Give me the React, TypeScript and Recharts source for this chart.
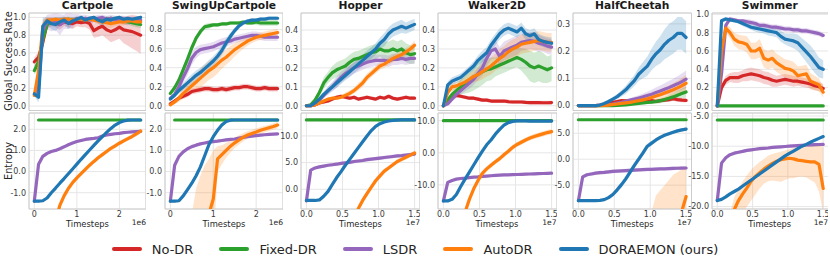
import React from "react";
import {
  Area,
  CartesianGrid,
  ComposedChart,
  Line,
  ReferenceArea,
  XAxis,
  YAxis,
} from "recharts";

const FONT = "'DejaVu Sans', 'Liberation Sans', sans-serif";

const RED = "#d62728";
const GREEN = "#2ca02c";
const PURPLE = "#9467bd";
const ORANGE = "#ff7f0e";
const BLUE = "#1f77b4";

// x grids (Cartpole tasks in 1e6 steps, MuJoCo tasks in 1e7 steps)
const xCart = [0, 0.1, 0.2, 0.3, 0.4, 0.5, 0.6, 0.7, 0.8, 0.9, 1.0, 1.1, 1.2, 1.3, 1.4, 1.5, 1.6, 1.7, 1.8, 1.9, 2.0, 2.1, 2.2, 2.3, 2.4, 2.5];
const xMj = [0, 0.06, 0.12, 0.18, 0.24, 0.3, 0.36, 0.42, 0.48, 0.54, 0.6, 0.66, 0.72, 0.78, 0.84, 0.9, 0.96, 1.02, 1.08, 1.14, 1.2, 1.26, 1.32, 1.38, 1.44, 1.5];
const xTicksCart = [0, 1, 2];
const xTicksMj = [0, 0.5, 1, 1.5];

const methodNames = ["No-DR", "Fixed-DR", "LSDR", "AutoDR", "DORAEMON (ours)"];
const methodColors = [RED, GREEN, PURPLE, ORANGE, BLUE];
const taskNames = ["Cartpole", "SwingUpCartpole", "Hopper", "Walker2D", "HalfCheetah", "Swimmer"];

// ---------- global success rate ----------
const cpSrNoDr = [.50, .55, .72, .93, .95, .94, .92, .95, .94, .93, .95, .94, .95, .93, .85, .88, .90, .86, .84, .86, .89, .86, .85, .84, .82, .80];
const cpSrNoDrSd = [.05, .06, .10, .06, .05, .05, .06, .05, .05, .06, .05, .05, .06, .07, .08, .10, .10, .10, .12, .12, .13, .15, .17, .19, .20, .21];
const cpSrFixed = [.40, .50, .75, .92, .96, .97, .96, .97, .98, .97, .98, .98, .97, .98, .99, .98, .97, .98, .99, .98, .97, .96, .95, .94, .93, .92];
const cpSrFixedSd = [.05, .08, .10, .05, .03, .03, .04, .03, .03, .03, .02, .02, .03, .03, .02, .02, .03, .03, .02, .03, .03, .03, .03, .04, .04, .04];
const cpSrLsdr = [.13, .20, .85, .95, .94, .96, .92, .95, .97, .96, .99, .98, .99, .97, .98, .99, 1.0, .98, .99, .97, .98, .97, .96, .97, .96, .97];
const cpSrLsdrSd = [.03, .10, .10, .08, .10, .10, .12, .08, .10, .08, .05, .05, .04, .05, .04, .04, .03, .04, .04, .05, .04, .05, .05, .04, .05, .04];
const cpSrAuto = [.12, .40, .90, .97, .97, .98, .97, .98, .98, .97, .98, .98, .97, .98, .97, .96, .95, .94, .93, .94, .95, .95, .96, .96, .95, .95];
const cpSrAutoSd = [.03, .10, .08, .03, .03, .02, .03, .02, .02, .03, .02, .02, .03, .02, .03, .03, .04, .05, .05, .04, .04, .04, .03, .03, .03, .03];
const cpSrDora = [.14, .10, .90, .96, .93, .92, .95, .97, .93, .96, .98, 1.0, .97, .99, 1.0, .97, .95, .98, .97, .99, 1.0, .98, .99, .98, .99, 1.0];
const cpSrDoraSd = [.03, .06, .10, .04, .06, .08, .05, .04, .06, .04, .03, .02, .03, .02, .02, .04, .05, .03, .03, .02, .02, .02, .02, .02, .02, .02];

const suSrNoDr = [.02, .05, .08, .10, .12, .15, .16, .17, .18, .18, .17, .17, .18, .17, .18, .19, .19, .20, .20, .19, .18, .18, .19, .18, .18, .18];
const suSrNoDrSd = [.01, .02, .02, .03, .03, .03, .03, .03, .03, .03, .03, .03, .03, .03, .03, .03, .03, .03, .03, .03, .03, .03, .03, .03, .03, .03];
const suSrFixed = [.13, .19, .27, .38, .49, .61, .71, .78, .83, .84, .85, .85, .86, .86, .87, .87, .87, .88, .87, .87, .88, .87, .87, .87, .87, .87];
const suSrFixedSd = [.02, .03, .04, .04, .04, .04, .03, .03, .03, .03, .02, .02, .02, .02, .02, .02, .02, .02, .02, .02, .03, .03, .03, .03, .03, .03];
const suSrLsdr = [.08, .12, .20, .30, .39, .50, .56, .59, .60, .61, .62, .64, .66, .67, .68, .70, .71, .72, .73, .74, .74, .73, .72, .72, .72, .72];
const suSrLsdrSd = [.02, .03, .05, .06, .07, .07, .06, .05, .05, .05, .05, .05, .05, .05, .04, .04, .04, .04, .04, .04, .04, .04, .04, .04, .04, .04];
const suSrAuto = [.01, .04, .08, .13, .17, .21, .25, .29, .33, .37, .40, .44, .48, .51, .55, .59, .62, .65, .68, .70, .72, .73, .74, .75, .76, .77];
const suSrAutoSd = [.01, .02, .04, .05, .07, .08, .09, .10, .10, .10, .10, .10, .09, .08, .08, .07, .06, .05, .05, .04, .04, .04, .04, .04, .04, .04];
const suSrDora = [.07, .11, .16, .20, .24, .28, .32, .35, .39, .43, .47, .52, .58, .66, .73, .79, .84, .87, .89, .90, .90, .91, .91, .92, .92, .92];
const suSrDoraSd = [.02, .02, .03, .04, .05, .05, .05, .05, .05, .05, .05, .05, .05, .05, .04, .03, .03, .02, .02, .02, .02, .02, .02, .02, .02, .02];

const hopSrNoDr = [0, 0, .005, .015, .02, .025, .035, .045, .05, .045, .04, .045, .035, .04, .045, .04, .035, .045, .04, .05, .04, .035, .04, .045, .04, .04];
const hopSrNoDrSd = [0, 0, .003, .005, .008, .01, .01, .01, .01, .01, .01, .01, .01, .01, .01, .01, .01, .01, .01, .01, .01, .01, .01, .01, .01, .01];
const hopSrFixed = [0, .005, .03, .07, .12, .15, .175, .19, .2, .21, .23, .245, .25, .26, .27, .28, .285, .3, .29, .29, .3, .29, .3, .28, .27, .275];
const hopSrFixedSd = [0, .005, .01, .02, .03, .03, .035, .04, .04, .04, .04, .04, .04, .04, .04, .04, .04, .04, .05, .05, .05, .05, .05, .05, .05, .05];
const hopSrLsdr = [0, 0, .01, .03, .055, .08, .1, .125, .15, .17, .185, .2, .21, .22, .23, .235, .24, .24, .24, .235, .245, .245, .25, .245, .25, .25];
const hopSrLsdrSd = [0, 0, .005, .01, .015, .02, .025, .03, .03, .03, .03, .03, .03, .03, .03, .03, .03, .03, .03, .03, .03, .03, .03, .03, .03, .03];
const hopSrAuto = [0, 0, .005, .015, .025, .035, .04, .04, .045, .055, .065, .08, .1, .12, .15, .17, .19, .21, .22, .235, .25, .26, .27, .285, .3, .32];
const hopSrAutoSd = [0, 0, .005, .008, .01, .01, .01, .01, .01, .015, .015, .015, .02, .02, .02, .02, .02, .02, .02, .02, .02, .02, .02, .02, .02, .025];
const hopSrDora = [0, 0, .015, .035, .06, .08, .1, .12, .14, .16, .18, .2, .22, .24, .26, .28, .3, .33, .35, .38, .4, .41, .42, .41, .42, .43];
const hopSrDoraSd = [0, 0, .005, .01, .015, .02, .02, .025, .025, .025, .03, .03, .03, .03, .03, .03, .03, .03, .035, .035, .035, .035, .035, .03, .03, .03];

const wlkSrNoDr = [0, .025, .045, .055, .05, .045, .04, .04, .035, .03, .03, .025, .025, .025, .025, .022, .02, .02, .02, .018, .017, .017, .017, .016, .016, .017];
const wlkSrNoDrSd = [0, .01, .01, .01, .01, .01, .01, .01, .01, .01, .01, .01, .01, .01, .01, .01, .01, .01, .01, .01, .01, .01, .01, .01, .01, .01];
const wlkSrFixed = [0, .03, .06, .08, .1, .115, .13, .15, .165, .18, .19, .195, .205, .215, .225, .235, .245, .255, .245, .23, .21, .2, .21, .2, .19, .2];
const wlkSrFixedSd = [0, .01, .02, .03, .04, .05, .06, .07, .07, .07, .06, .06, .05, .05, .05, .05, .05, .05, .06, .07, .08, .08, .08, .08, .07, .07];
const wlkSrLsdr = [0, .01, .035, .06, .08, .1, .12, .14, .17, .2, .25, .29, .3, .26, .29, .3, .31, .32, .335, .34, .345, .34, .33, .325, .315, .31];
const wlkSrLsdrSd = [0, .005, .01, .02, .02, .025, .03, .03, .035, .04, .04, .045, .05, .05, .05, .05, .05, .05, .045, .045, .045, .045, .045, .04, .04, .04];
const wlkSrAuto = [0, .07, .1, .105, .115, .125, .14, .155, .165, .18, .195, .21, .23, .25, .265, .285, .3, .31, .325, .33, .335, .34, .345, .34, .335, .335];
const wlkSrAutoSd = [0, .01, .02, .02, .02, .025, .03, .03, .035, .04, .04, .045, .045, .05, .05, .05, .05, .05, .05, .05, .05, .05, .05, .05, .05, .05];
const wlkSrDora = [0, .11, .13, .14, .15, .17, .19, .21, .24, .26, .28, .32, .35, .38, .4, .41, .4, .39, .41, .38, .37, .38, .35, .34, .335, .33];
const wlkSrDoraSd = [0, .02, .02, .02, .02, .02, .02, .025, .025, .03, .03, .03, .03, .03, .03, .03, .03, .03, .03, .03, .03, .03, .03, .03, .03, .03];

const hcSrNoDr = [0, 0, 0, 0, 0, .002, .005, .008, .012, .015, .018, .017, .018, .016, .015, .017, .016, .018, .015, .018, .02, .022, .025, .022, .02, .019];
const hcSrNoDrSd = [0, 0, 0, 0, 0, .002, .003, .004, .005, .006, .006, .006, .006, .006, .006, .006, .006, .007, .007, .007, .007, .008, .008, .008, .008, .008];
const hcSrFixed = [0, 0, 0, 0, 0, 0, 0, 0, 0, .001, .002, .003, .004, .006, .008, .01, .012, .013, .015, .018, .022, .027, .032, .038, .044, .05];
const hcSrFixedSd = [0, 0, 0, 0, 0, 0, 0, 0, 0, .001, .001, .002, .002, .003, .004, .005, .006, .007, .008, .009, .01, .012, .014, .016, .018, .02];
const hcSrLsdr = [0, 0, 0, 0, 0, .001, .002, .004, .006, .009, .012, .016, .02, .024, .028, .032, .037, .042, .048, .054, .06, .066, .073, .08, .088, .097];
const hcSrLsdrSd = [0, 0, 0, 0, 0, .001, .002, .003, .004, .005, .006, .007, .008, .009, .01, .012, .014, .016, .018, .02, .022, .024, .026, .028, .03, .032];
const hcSrAuto = [0, 0, 0, 0, 0, 0, .001, .002, .004, .006, .008, .01, .012, .015, .018, .021, .025, .03, .035, .04, .046, .052, .058, .065, .073, .082];
const hcSrAutoSd = [0, 0, 0, 0, 0, 0, .001, .002, .003, .004, .005, .006, .007, .008, .009, .01, .012, .014, .016, .018, .02, .022, .024, .026, .028, .03];
const hcSrDora = [0, 0, 0, 0, 0, .002, .008, .015, .024, .033, .045, .058, .075, .092, .115, .13, .145, .17, .19, .205, .225, .24, .25, .265, .265, .25];
const hcSrDoraSd = [0, 0, 0, 0, 0, .001, .004, .006, .008, .01, .012, .015, .018, .02, .025, .03, .035, .04, .045, .05, .055, .06, .06, .06, .06, .06];

const swSrNoDr = [0, .2, .28, .31, .31, .31, .33, .34, .35, .34, .33, .31, .3, .28, .27, .28, .29, .28, .27, .27, .26, .25, .24, .22, .21, .19];
const swSrNoDrSd = [0, .04, .05, .05, .06, .06, .06, .07, .07, .07, .07, .07, .07, .07, .06, .06, .06, .06, .06, .05, .05, .05, .05, .05, .05, .05];
const swSrFixed = [0, 0, 0, 0, 0, 0, 0, 0, 0, 0, 0, 0, 0, 0, 0, 0, 0, 0, 0, 0, 0, 0, 0, 0, 0, 0];
const swSrLsdr = [0, .35, .88, .95, .94, .93, .93, .92, .91, .9, .88, .88, .87, .86, .86, .85, .84, .84, .83, .83, .82, .82, .81, .8, .79, .77];
const swSrLsdrSd = [0, .05, .04, .02, .02, .02, .02, .03, .03, .03, .03, .03, .03, .03, .03, .03, .03, .03, .03, .03, .03, .03, .03, .03, .03, .03];
const swSrAuto = [0, .6, .85, .8, .73, .7, .69, .67, .6, .6, .63, .52, .5, .52, .47, .44, .41, .4, .38, .33, .34, .35, .27, .25, .23, .15];
const swSrAutoSd = [0, .08, .05, .06, .07, .08, .08, .09, .09, .09, .1, .1, .1, .1, .1, .1, .1, .1, .1, .1, .1, .1, .09, .08, .07, .06];
const swSrDora = [0, .93, .95, .94, .93, .92, .9, .88, .86, .85, .84, .83, .82, .81, .8, .76, .73, .72, .71, .69, .64, .59, .54, .48, .42, .4];
const swSrDoraSd = [0, .02, .02, .02, .02, .02, .03, .03, .03, .04, .04, .04, .05, .05, .05, .06, .06, .07, .08, .09, .1, .11, .12, .12, .11, .1];

// ---------- entropy ----------
const cpEntFixed = [null, 2.44, 2.44, 2.44, 2.44, 2.44, 2.44, 2.44, 2.44, 2.44, 2.44, 2.44, 2.44, 2.44, 2.44, 2.44, 2.44, 2.44, 2.44, 2.44, 2.44, 2.44, 2.44, 2.44, 2.44, 2.44];
const cpEntLsdr = [-1.4, .35, .72, .86, .95, 1.0, 1.08, 1.17, 1.27, 1.35, 1.42, 1.47, 1.52, 1.55, 1.57, 1.6, 1.68, 1.73, 1.76, 1.79, 1.81, 1.84, 1.86, 1.88, 1.89, 1.9];
const cpEntLsdrSd = [.05, .06, .06, .06, .06, .06, .06, .06, .06, .06, .06, .06, .06, .06, .06, .06, .06, .06, .06, .06, .06, .06, .06, .06, .06, .06];
const cpEntAuto = [null, null, null, null, -3.2, -2.3, -1.6, -1.15, -.8, -.52, -.3, -.1, .1, .3, .48, .65, .8, .95, 1.1, 1.22, 1.34, 1.45, 1.56, 1.66, 1.78, 1.92];
const cpEntAutoSd = [null, null, null, null, .1, .1, .1, .1, .1, .1, .1, .1, .1, .1, .1, .1, .1, .1, .1, .1, .1, .1, .1, .1, .1, .1];
const cpEntDora = [-1.4, -1.4, -1.38, -1.25, -1.0, -.78, -.55, -.33, -.1, .12, .35, .58, .8, 1.02, 1.24, 1.45, 1.65, 1.85, 2.04, 2.2, 2.32, 2.39, 2.43, 2.44, 2.44, 2.44];
const cpEntDoraSd = [.05, .05, .05, .05, .05, .05, .05, .05, .05, .05, .05, .05, .05, .05, .05, .05, .05, .05, .05, .05, .05, .05, .05, .05, .05, .05];

const suEntFixed = [null, 2.44, 2.44, 2.44, 2.44, 2.44, 2.44, 2.44, 2.44, 2.44, 2.44, 2.44, 2.44, 2.44, 2.44, 2.44, 2.44, 2.44, 2.44, 2.44, 2.44, 2.44, 2.44, 2.44, 2.44, 2.44];
const suEntLsdr = [-1.4, .3, .72, .93, 1.08, 1.18, 1.25, 1.31, 1.35, 1.39, 1.42, 1.44, 1.47, 1.5, 1.52, 1.54, 1.58, 1.62, 1.65, 1.68, 1.7, 1.72, 1.74, 1.76, 1.77, 1.78];
const suEntLsdrSd = [.05, .06, .06, .06, .06, .06, .06, .06, .06, .06, .06, .06, .06, .06, .06, .06, .06, .06, .06, .06, .06, .06, .06, .06, .06, .06];
const suEntAuto = [null, null, null, null, null, -5, -4, -3.5, -3, -2, -1.3, .6, .8, 1.0, 1.2, 1.36, 1.5, 1.63, 1.73, 1.8, 1.87, 1.95, 2.01, 2.07, 2.13, 2.2];
const suEntAutoSd = [null, null, null, null, null, 3.0, 3.2, 3.3, 3.3, 2.6, 2.3, .6, .45, .35, .3, .25, .22, .2, .18, .18, .17, .16, .16, .15, .15, .15];
const suEntDora = [-1.4, -1.4, -1.38, -1.15, -.85, -.55, -.2, .22, .75, 1.28, 1.65, 1.95, 2.2, 2.37, 2.43, 2.44, 2.44, 2.44, 2.44, 2.44, 2.44, 2.44, 2.44, 2.44, 2.44, 2.44];
const suEntDoraSd = [.05, .05, .05, .05, .05, .05, .05, .05, .05, .05, .05, .05, .05, .05, .05, .05, .05, .05, .05, .05, .05, .05, .05, .05, .05, .05];

const hopEntFixed = [13, 13, 13, 13, 13, 13, 13, 13, 13, 13, 13, 13, 13, 13, 13, 13, 13, 13, 13, 13, 13, 13, 13, 13, 13, 13];
const hopEntLsdr = [-2.2, 3.6, 4.0, 4.2, 4.35, 4.5, 4.6, 4.7, 4.85, 4.95, 5.05, 5.2, 5.3, 5.4, 5.55, 5.65, 5.75, 5.85, 5.95, 6.05, 6.15, 6.25, 6.3, 6.4, 6.5, 6.6];
const hopEntLsdrSd = [.2, .3, .3, .3, .3, .3, .3, .3, .3, .3, .35, .35, .35, .35, .35, .35, .35, .35, .35, .35, .35, .35, .35, .35, .35, .35];
const hopEntAuto = [null, null, null, null, null, null, null, null, null, null, null, -6.0, -3.6, -2.1, -.8, .4, 1.6, 2.5, 3.4, 4.0, 4.6, 5.2, 5.6, 6.0, 6.4, 6.8];
const hopEntAutoSd = [null, null, null, null, null, null, null, null, null, null, null, .6, .6, .6, .55, .5, .5, .5, .45, .45, .4, .4, .4, .4, .4, .4];
const hopEntDora = [-2.1, -2.1, -2.1, -2.0, -1.3, -.4, .9, 2.2, 3.3, 4.5, 5.6, 6.7, 7.8, 8.9, 10.0, 11.0, 11.8, 12.3, 12.6, 12.8, 12.9, 12.95, 13, 13, 13, 13];
const hopEntDoraSd = [.2, .2, .2, .25, .3, .3, .3, .3, .3, .3, .3, .3, .3, .3, .3, .3, .25, .2, .2, .2, .2, .2, .2, .2, .2, .2];

const wlkEntFixed = [10, 10, 10, 10, 10, 10, 10, 10, 10, 10, 10, 10, 10, 10, 10, 10, 10, 10, 10, 10, 10, 10, 10, 10, 10, 10];
const wlkEntLsdr = [-15, -9.2, -8.6, -8.2, -8.0, -7.9, -7.75, -7.6, -7.5, -7.35, -7.25, -7.15, -7.05, -6.95, -6.9, -6.85, -6.8, -6.75, -6.7, -6.65, -6.6, -6.55, -6.5, -6.45, -6.4, -6.35];
const wlkEntLsdrSd = [.3, .4, .4, .4, .4, .4, .4, .4, .4, .4, .4, .4, .4, .4, .4, .4, .4, .4, .4, .4, .4, .4, .4, .4, .4, .4];
const wlkEntAuto = [null, null, null, null, -24, -18.5, -14.5, -11.2, -8.6, -6.4, -5.0, -3.9, -2.8, -1.8, -.6, .5, 1.7, 2.6, 3.3, 4.0, 4.6, 5.1, 5.5, 5.9, 6.3, 6.6];
const wlkEntAutoSd = [null, null, null, null, 1.0, 1.0, .9, .9, .8, .8, .8, .8, .8, .8, .8, .8, .8, .8, .8, .8, .8, .8, .8, .8, .8, .8];
const wlkEntDora = [-15, -15, -14.5, -13, -10.5, -8.2, -6.0, -3.8, -1.6, .5, 2.5, 4.0, 5.8, 7.3, 8.6, 9.4, 9.8, 9.95, 9.95, 9.95, 9.9, 9.9, 9.9, 9.9, 9.9, 9.9];
const wlkEntDoraSd = [.3, .3, .3, .4, .5, .5, .5, .5, .5, .5, .5, .5, .5, .5, .4, .3, .3, .3, .3, .3, .3, .3, .3, .3, .3, .3];

const hcEntFixed = [7.6, 7.6, 7.6, 7.6, 7.6, 7.6, 7.6, 7.6, 7.6, 7.6, 7.6, 7.6, 7.6, 7.6, 7.6, 7.6, 7.6, 7.6, 7.6, 7.6, 7.6, 7.6, 7.6, 7.6, 7.6, 7.6];
const hcEntLsdr = [-8, -3.4, -3.0, -2.85, -2.7, -2.6, -2.55, -2.45, -2.35, -2.3, -2.25, -2.2, -2.15, -2.1, -2.05, -2.0, -1.98, -1.95, -1.92, -1.88, -1.85, -1.82, -1.78, -1.75, -1.72, -1.7];
const hcEntLsdrSd = [.2, .35, .35, .35, .35, .35, .35, .35, .35, .35, .35, .35, .35, .35, .35, .35, .35, .35, .35, .35, .35, .35, .35, .35, .35, .35];
const hcEntAuto = [null, null, null, null, null, null, null, null, null, null, null, null, null, null, null, null, null, -16, -15, -14, -13, -12.5, -12, -11.5, -10, -7.2];
const hcEntAutoSd = [null, null, null, null, null, null, null, null, null, null, null, null, null, null, null, null, null, 6, 8, 8, 8, 8.5, 9, 9, 8, 5.5];
const hcEntDora = [-8, -8, -8, -8, -8, -7.95, -7.8, -7.4, -6.8, -5.9, -4.9, -3.8, -2.5, -1.2, 0, 1.2, 2.5, 3.1, 3.7, 4.2, 4.6, 4.9, 5.2, 5.45, 5.65, 5.8];
const hcEntDoraSd = [.1, .1, .1, .1, .1, .15, .2, .3, .4, .5, .55, .6, .6, .6, .6, .55, .5, .45, .4, .35, .3, .3, .3, .3, .3, .3];

const swEntFixed = [-5.66, -5.66, -5.66, -5.66, -5.66, -5.66, -5.66, -5.66, -5.66, -5.66, -5.66, -5.66, -5.66, -5.66, -5.66, -5.66, -5.66, -5.66, -5.66, -5.66, -5.66, -5.66, -5.66, -5.66, -5.66, -5.66];
const swEntLsdr = [-19, -12.8, -11.9, -11.4, -11.15, -11.0, -10.85, -10.7, -10.6, -10.5, -10.4, -10.35, -10.3, -10.2, -10.15, -10.1, -10.05, -10.0, -9.95, -9.9, -9.85, -9.8, -9.78, -9.75, -9.72, -9.7];
const swEntLsdrSd = [.2, .25, .25, .25, .25, .25, .25, .25, .25, .25, .25, .25, .25, .25, .25, .25, .25, .25, .25, .25, .25, .25, .25, .25, .25, .25];
const swEntAuto = [null, null, null, -23, -20.5, -19, -17.9, -16.9, -15.8, -15, -14.4, -13.8, -13.3, -12.85, -12.5, -12.25, -12.1, -12, -12.1, -12.3, -12.4, -12.5, -12.6, -12.6, -13, -17];
const swEntAutoLo = [null, null, null, -26, -24, -22, -21, -20, -19, -18, -17, -16.2, -15.8, -15.7, -15.8, -15.9, -15.6, -15.3, -15.3, -15.1, -15.0, -15.2, -15.6, -16.0, -17.5, -21];
const swEntAutoHi = [null, null, null, -21, -18.5, -17, -15.8, -14.8, -13.9, -13.2, -12.6, -12.1, -11.6, -11.3, -11.1, -10.9, -10.7, -10.5, -10.3, -10.1, -10.0, -9.9, -9.8, -9.8, -9.9, -10.2];
const swEntDora = [-19, -18.8, -18.4, -17.9, -17.5, -17.1, -16.6, -16.1, -15.6, -15.1, -14.6, -14.1, -13.6, -13.1, -12.6, -12.1, -11.6, -11.2, -10.8, -10.4, -10.0, -9.7, -9.35, -9.0, -8.7, -8.4];
const swEntDoraSd = [.2, .2, .2, .2, .2, .2, .2, .2, .2, .2, .2, .2, .2, .2, .2, .2, .2, .2, .2, .2, .2, .2, .2, .2, .2, .2];

// y ticks
const ticksCpSr = [0, 0.2, 0.4, 0.6, 0.8, 1.0];
const ticksSuSr = [0, 0.2, 0.4, 0.6, 0.8];
const ticksMjSr = [0, 0.1, 0.2, 0.3, 0.4];
const ticksHcSr = [0, 0.1, 0.2, 0.3];
const ticksCpEnt = [-1, 0, 1, 2];
const ticksHopEnt = [0, 5, 10];
const ticksWlkEnt = [-10, 0, 10];
const ticksHcEnt = [-5, 0, 5];
const ticksSwEnt = [-20, -15, -10, -5];

type Vals = (number | null)[];
interface SeriesDef {
  id: string;
  color: string;
  mean: Vals;
  sd?: Vals;
  lo?: Vals;
  hi?: Vals;
}

const ser = (mean: Vals, sd?: Vals, lo?: Vals, hi?: Vals) => ({ mean, sd, lo, hi });

// column layout of the plot areas
const cols = [
  { left: 29, width: 117 },
  { left: 165, width: 118 },
  { left: 301, width: 119 },
  { left: 437.5, width: 119 },
  { left: 573, width: 118.5 },
  { left: 711.5, width: 116.5 },
];

const TOP_Y = 12.5;
const TOP_H = 97.5;
const BOT_Y = 113;
const BOT_H = 96;
const PAD = 6; // room above/below the plot for tick labels

const buildRows = (xs: number[], series: SeriesDef[]) =>
  xs.map((x, i) => {
    const row: Record<string, unknown> = { x };
    series.forEach((s) => {
      const m = s.mean[i] ?? null;
      row[s.id] = m;
      let lo: number | null = null;
      let hi: number | null = null;
      if (s.lo && s.hi) {
        lo = s.lo[i] ?? null;
        hi = s.hi[i] ?? null;
      } else if (s.sd && m !== null && s.sd[i] != null) {
        lo = m - (s.sd[i] as number);
        hi = m + (s.sd[i] as number);
      }
      row[`${s.id}Band`] = lo === null || hi === null ? null : [lo, hi];
    });
    return row;
  });

interface PanelProps {
  col: number;
  top: number;
  height: number;
  xs: number[];
  xDomain: [number, number];
  xTicks: number[];
  xFmt: (v: number) => string;
  yDomain: [number, number];
  yTicks: number[];
  showX: boolean;
  series: SeriesDef[];
}

const tickStyle = { fontSize: 8, fill: "#3c3c3c", fontFamily: FONT };

function Panel({ col, top, height, xs, xDomain, xTicks, xFmt, yDomain, yTicks, showX, series }: PanelProps) {
  const YW = 36;
  const XH = showX ? 14 : 0;
  const { left, width } = cols[col];
  const data = buildRows(xs, series);
  return (
    <div style={{ position: "absolute", left: left - YW, top: top - PAD }}>
      <ComposedChart
        width={width + YW}
        height={height + XH + 2 * PAD}
        data={data}
        margin={{ top: PAD, right: 0, bottom: PAD, left: 0 }}
      >
        <CartesianGrid stroke="#e6e6e6" strokeWidth={1} />
        <XAxis
          dataKey="x"
          type="number"
          domain={xDomain}
          ticks={xTicks}
          allowDataOverflow
          interval={0}
          height={XH}
          axisLine={false}
          tickLine={false}
          tickSize={0}
          tickMargin={2}
          tick={showX ? tickStyle : false}
          tickFormatter={xFmt}
        />
        <YAxis
          type="number"
          domain={yDomain}
          ticks={yTicks}
          allowDataOverflow
          interval={0}
          width={YW}
          axisLine={false}
          tickLine={false}
          tickSize={0}
          tickMargin={3}
          tick={tickStyle}
          tickFormatter={(v: number) => v.toFixed(1)}
        />
        {series.map((s) => (
          <Area
            key={`${s.id}-band`}
            type="linear"
            dataKey={`${s.id}Band`}
            stroke="none"
            fill={s.color}
            fillOpacity={0.22}
            dot={false}
            activeDot={false}
            isAnimationActive={false}
          />
        ))}
        {series.map((s) => (
          <Line
            key={s.id}
            type="linear"
            dataKey={s.id}
            stroke={s.color}
            strokeWidth={3.2}
            strokeLinejoin="round"
            strokeLinecap="round"
            dot={false}
            activeDot={false}
            isAnimationActive={false}
          />
        ))}
        <ReferenceArea
          x1={xDomain[0]}
          x2={xDomain[1]}
          y1={yDomain[0]}
          y2={yDomain[1]}
          fill="none"
          stroke="#cccccc"
          strokeWidth={1}
          ifOverflow="visible"
        />
      </ComposedChart>
    </div>
  );
}

const mk = (defs: { mean: Vals; sd?: Vals; lo?: Vals; hi?: Vals }[], offset = 0): SeriesDef[] =>
  defs.map((d, i) => ({ id: `s${i + offset}`, color: methodColors[i + offset], ...d }));

const fmtInt = (v: number) => String(Math.round(v));
const fmtOne = (v: number) => v.toFixed(1);

const cartDom: [number, number] = [-0.125, 2.625];
const mjDom: [number, number] = [-0.075, 1.575];

const topPanels = [
  { xs: xCart, xDomain: cartDom, xTicks: xTicksCart, xFmt: fmtInt, yDomain: [-0.05, 1.05] as [number, number], yTicks: ticksCpSr,
    series: mk([ser(cpSrNoDr, cpSrNoDrSd), ser(cpSrFixed, cpSrFixedSd), ser(cpSrLsdr, cpSrLsdrSd), ser(cpSrAuto, cpSrAutoSd), ser(cpSrDora, cpSrDoraSd)]) },
  { xs: xCart, xDomain: cartDom, xTicks: xTicksCart, xFmt: fmtInt, yDomain: [-0.05, 0.975] as [number, number], yTicks: ticksSuSr,
    series: mk([ser(suSrNoDr, suSrNoDrSd), ser(suSrFixed, suSrFixedSd), ser(suSrLsdr, suSrLsdrSd), ser(suSrAuto, suSrAutoSd), ser(suSrDora, suSrDoraSd)]) },
  { xs: xMj, xDomain: mjDom, xTicks: xTicksMj, xFmt: fmtOne, yDomain: [-0.025, 0.49] as [number, number], yTicks: ticksMjSr,
    series: mk([ser(hopSrNoDr, hopSrNoDrSd), ser(hopSrFixed, hopSrFixedSd), ser(hopSrLsdr, hopSrLsdrSd), ser(hopSrAuto, hopSrAutoSd), ser(hopSrDora, hopSrDoraSd)]) },
  { xs: xMj, xDomain: mjDom, xTicks: xTicksMj, xFmt: fmtOne, yDomain: [-0.025, 0.49] as [number, number], yTicks: ticksMjSr,
    series: mk([ser(wlkSrNoDr, wlkSrNoDrSd), ser(wlkSrFixed, wlkSrFixedSd), ser(wlkSrLsdr, wlkSrLsdrSd), ser(wlkSrAuto, wlkSrAutoSd), ser(wlkSrDora, wlkSrDoraSd)]) },
  { xs: xMj, xDomain: mjDom, xTicks: xTicksMj, xFmt: fmtOne, yDomain: [-0.018, 0.34] as [number, number], yTicks: ticksHcSr,
    series: mk([ser(hcSrNoDr, hcSrNoDrSd), ser(hcSrFixed, hcSrFixedSd), ser(hcSrLsdr, hcSrLsdrSd), ser(hcSrAuto, hcSrAutoSd), ser(hcSrDora, hcSrDoraSd)]) },
  { xs: xMj, xDomain: mjDom, xTicks: xTicksMj, xFmt: fmtOne, yDomain: [-0.05, 1.015] as [number, number], yTicks: ticksCpSr,
    series: mk([ser(swSrNoDr, swSrNoDrSd), ser(swSrFixed), ser(swSrLsdr, swSrLsdrSd), ser(swSrAuto, swSrAutoSd), ser(swSrDora, swSrDoraSd)]) },
];

const bottomPanels = [
  { xs: xCart, xDomain: cartDom, xTicks: xTicksCart, xFmt: fmtInt, yDomain: [-1.77, 2.77] as [number, number], yTicks: ticksCpEnt,
    series: mk([ser(cpEntFixed), ser(cpEntLsdr, cpEntLsdrSd), ser(cpEntAuto, cpEntAutoSd), ser(cpEntDora, cpEntDoraSd)], 1) },
  { xs: xCart, xDomain: cartDom, xTicks: xTicksCart, xFmt: fmtInt, yDomain: [-1.77, 2.77] as [number, number], yTicks: ticksCpEnt,
    series: mk([ser(suEntFixed), ser(suEntLsdr, suEntLsdrSd), ser(suEntAuto, suEntAutoSd), ser(suEntDora, suEntDoraSd)], 1) },
  { xs: xMj, xDomain: mjDom, xTicks: xTicksMj, xFmt: fmtOne, yDomain: [-3.7, 14.3] as [number, number], yTicks: ticksHopEnt,
    series: mk([ser(hopEntFixed), ser(hopEntLsdr, hopEntLsdrSd), ser(hopEntAuto, hopEntAutoSd), ser(hopEntDora, hopEntDoraSd)], 1) },
  { xs: xMj, xDomain: mjDom, xTicks: xTicksMj, xFmt: fmtOne, yDomain: [-17.5, 12.4] as [number, number], yTicks: ticksWlkEnt,
    series: mk([ser(wlkEntFixed), ser(wlkEntLsdr, wlkEntLsdrSd), ser(wlkEntAuto, wlkEntAutoSd), ser(wlkEntDora, wlkEntDoraSd)], 1) },
  { xs: xMj, xDomain: mjDom, xTicks: xTicksMj, xFmt: fmtOne, yDomain: [-9.6, 8.9] as [number, number], yTicks: ticksHcEnt,
    series: mk([ser(hcEntFixed), ser(hcEntLsdr, hcEntLsdrSd), ser(hcEntAuto, hcEntAutoSd), ser(hcEntDora, hcEntDoraSd)], 1) },
  { xs: xMj, xDomain: mjDom, xTicks: xTicksMj, xFmt: fmtOne, yDomain: [-20.4, -4.5] as [number, number], yTicks: ticksSwEnt,
    series: mk([ser(swEntFixed), ser(swEntLsdr, swEntLsdrSd), ser(swEntAuto, undefined, swEntAutoLo, swEntAutoHi), ser(swEntDora, swEntDoraSd)], 1) },
];

const offsetLabels = ["1e6", "1e6", "1e7", "1e7", "1e7", "1e7"];

export default function App() {
  return (
    <div style={{ position: "relative", width: 830, height: 256, background: "#fff", overflow: "hidden", fontFamily: FONT }}>
      <style>{"body{margin:0}"}</style>
      {taskNames.map((t, i) => (
        <div
          key={t}
          style={{
            position: "absolute",
            left: cols[i].left,
            width: cols[i].width,
            top: -1,
            textAlign: "center",
            fontSize: 10.7,
            fontWeight: "bold",
            lineHeight: "13px",
            color: "#1a1a1a",
          }}
        >
          {t}
        </div>
      ))}
      <div style={{ position: "absolute", left: 7.5, top: 61, transform: "translate(-50%, -50%) rotate(-90deg)", fontSize: 9.8, color: "#262626", whiteSpace: "nowrap" }}>
        Global Success Rate
      </div>
      <div style={{ position: "absolute", left: 7.5, top: 161, transform: "translate(-50%, -50%) rotate(-90deg)", fontSize: 9.8, color: "#262626", whiteSpace: "nowrap" }}>
        Entropy
      </div>
      {topPanels.map((p, i) => (
        <Panel key={`top-${i}`} col={i} top={TOP_Y} height={TOP_H} showX={false} {...p} />
      ))}
      {bottomPanels.map((p, i) => (
        <Panel key={`bot-${i}`} col={i} top={BOT_Y} height={BOT_H} showX {...p} />
      ))}
      {cols.map((c, i) => (
        <React.Fragment key={`xl-${i}`}>
          <div style={{ position: "absolute", left: c.left, width: c.width, top: 219, textAlign: "center", fontSize: 8.4, lineHeight: "11px", color: "#262626" }}>
            Timesteps
          </div>
          <div style={{ position: "absolute", left: c.left + c.width - 30, width: 30, top: 217.5, textAlign: "right", fontSize: 7.6, lineHeight: "10px", color: "#262626" }}>
            {offsetLabels[i]}
          </div>
        </React.Fragment>
      ))}
      <div style={{ position: "absolute", left: 0, width: 830, top: 241, height: 16, display: "flex", justifyContent: "center", alignItems: "center", gap: 26 }}>
        {methodNames.map((m, i) => (
          <div key={m} style={{ display: "flex", alignItems: "center", gap: 10 }}>
            <div style={{ width: 30, height: 3.6, borderRadius: 2, background: methodColors[i] }} />
            <span style={{ fontSize: 13, color: "#262626", whiteSpace: "nowrap" }}>{m}</span>
          </div>
        ))}
      </div>
    </div>
  );
}
